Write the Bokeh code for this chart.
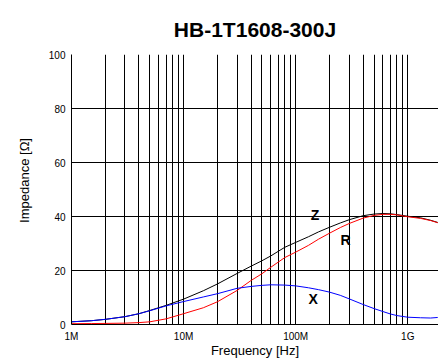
from bokeh.plotting import figure
from bokeh.models import FixedTicker, CustomJSTickFormatter, Label, Range1d
from bokeh.embed import file_html
from bokeh.resources import INLINE

title_text = "HB-1T1608-300J"
x_label = "Frequency [Hz]"
y_label = "Impedance [\u03a9]"

freq = [1e6, 1.5e6, 2e6, 3e6, 4e6, 5e6, 7e6, 1e7, 1.5e7, 2e7, 3e7, 4e7, 5e7, 6e7, 8e7,
        1e8, 1.3e8, 1.6e8, 2e8, 2.5e8, 3e8, 4e8, 5e8, 6e8, 7e8, 8e8, 1e9, 1.3e9, 1.6e9, 1.85e9]
z_vals = [1.0, 1.4, 1.9, 2.9, 4.0, 5.2, 7.1, 9.4, 12.5, 15.0, 18.9, 21.6, 23.6, 25.4, 28.6,
          30.4, 32.5, 34.3, 36.0, 37.6, 38.8, 40.3, 40.9, 41.1, 41.0, 40.7, 40.1, 39.5, 38.6, 37.8]
r_vals = [0.3, 0.35, 0.4, 0.5, 0.7, 1.0, 2.1, 4.0, 6.2, 8.4, 12.6, 16.3, 18.8, 21.2, 24.8,
          26.8, 29.3, 31.6, 33.8, 35.9, 37.4, 39.4, 40.4, 40.8, 40.8, 40.6, 39.9, 39.3, 38.5, 37.7]
x_vals = [1.0, 1.4, 1.9, 2.9, 4.0, 5.1, 6.9, 8.5, 10.2, 11.4, 13.4, 14.1, 14.5, 14.7, 14.6,
          14.3, 13.6, 12.9, 12.0, 10.8, 9.5, 7.4, 5.9, 4.8, 3.9, 3.3, 2.7, 2.5, 2.4, 2.6]

curve_names = ["Z", "R", "X"]
name_freq = [1.49e8, 2.78e8, 1.43e8]
name_val = [40.5, 31.4, 9.5]

x_major = [1e6, 1e7, 1e8, 1e9]
x_minor = [k * 10 ** d for d in range(6, 10) for k in range(2, 10) if k * 10 ** d < 1.88e9]
y_ticks = [0, 20, 40, 60, 80, 100]

FONT = "Liberation Sans"

p = figure(width=438, height=360, x_axis_type="log", output_backend="svg",
           toolbar_location=None, x_range=Range1d(1e6, 1.88e9), y_range=Range1d(0, 100),
           min_border_left=71, min_border_right=0, min_border_top=54, min_border_bottom=36)
p.outline_line_color = None
p.background_fill_color = "white"
p.border_fill_color = "white"

p.title.text = title_text
p.title.align = "center"
p.title.text_font = FONT
p.title.text_font_style = "bold"
p.title.text_font_size = "21px"
p.title.text_color = "black"
p.title.standoff = 27

xt = FixedTicker(ticks=x_major, minor_ticks=x_minor)
p.xaxis.ticker = xt
p.xgrid.ticker = xt
p.xaxis.formatter = CustomJSTickFormatter(code="""
const m = {6: '1M', 7: '10M', 8: '100M', 9: '1G'};
return m[Math.round(Math.log10(tick))] || '';
""")
yt = FixedTicker(ticks=y_ticks)
p.yaxis.ticker = yt
p.ygrid.ticker = yt

for ax in (p.xaxis[0], p.yaxis[0]):
    ax.major_tick_out = 0
    ax.major_tick_in = 0
    ax.minor_tick_out = 0
    ax.minor_tick_in = 0
    ax.axis_line_color = "black"
    ax.axis_line_width = 1
    ax.major_label_text_font = FONT
    ax.major_label_text_font_size = "10px"
    ax.major_label_text_color = "black"
    ax.major_label_standoff = 6
    ax.axis_label_text_font = FONT
    ax.axis_label_text_font_size = "13px"
    ax.axis_label_text_font_style = "normal"
    ax.axis_label_text_color = "black"

p.xaxis.axis_label = x_label
p.xaxis.axis_label_standoff = -2
p.yaxis.axis_label = "\u00a0" * 5 + y_label
p.yaxis.axis_label_standoff = 14

p.xgrid.grid_line_color = "black"
p.xgrid.minor_grid_line_color = "black"
p.ygrid.grid_line_color = "black"

p.line(freq, z_vals, color="black", line_width=1)
p.line(freq, r_vals, color="#ff0000", line_width=1)
p.line(freq, x_vals, color="#0000ff", line_width=1)

for nm, fx, vy in zip(curve_names, name_freq, name_val):
    p.add_layout(Label(x=fx, y=vy, text=nm, text_font=FONT, text_font_style="bold",
                       text_font_size="14px", text_align="center", text_baseline="middle",
                       text_color="black"))

open("out.html", "w").write(file_html(p, INLINE))
